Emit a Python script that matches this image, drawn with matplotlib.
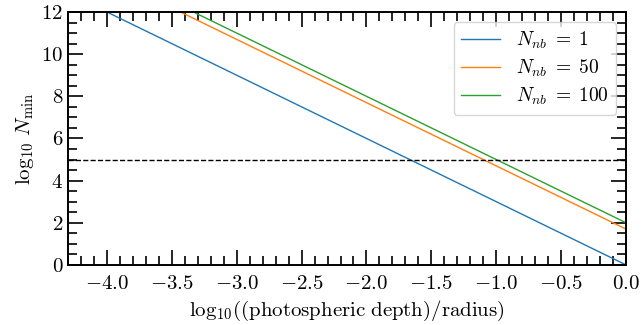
import matplotlib
matplotlib.use("Agg")
import matplotlib.pyplot as plt
from matplotlib.ticker import MultipleLocator

plt.rcParams.update({
    "font.family": "serif",
    "font.serif": ["cmr10"],
    "mathtext.fontset": "cm",
    "axes.formatter.use_mathtext": True,
    "font.size": 15,
})

# data (straight lines: endpoints)
x_vals = [-4.3, 0.0]
y_nb1 = [12.9, 0.0]
y_nb50 = [14.6, 1.7]
y_nb100 = [14.9, 2.0]
labels = [r"$N_{nb}\;=\;1$", r"$N_{nb}\;=\;50$", r"$N_{nb}\;=\;100$"]
threshold = 5.0

fig = plt.figure(figsize=(6.42, 3.25), dpi=100)
ax = fig.add_axes([0.106, 0.185, 0.869, 0.778])

ax.plot(x_vals, y_nb1, color="#1f77b4", lw=1.0, label=labels[0])
ax.plot(x_vals, y_nb50, color="#ff7f0e", lw=1.0, label=labels[1])
ax.plot(x_vals, y_nb100, color="#2ca02c", lw=1.0, label=labels[2])
ax.axhline(threshold, color="black", ls="--", lw=1.0)

ax.set_xlim(-4.3, 0.0)
ax.set_ylim(0, 12)
ax.xaxis.set_major_locator(MultipleLocator(0.5))
ax.xaxis.set_minor_locator(MultipleLocator(0.1))
ax.yaxis.set_major_locator(MultipleLocator(2))
ax.yaxis.set_minor_locator(MultipleLocator(0.5))
ax.tick_params(which="both", direction="in", top=True, right=True)
ax.tick_params(which="major", length=11, width=1.2)
ax.tick_params(which="minor", length=6.5, width=1.2)
ax.tick_params(axis="x", which="major", pad=7.5)
for s in ax.spines.values():
    s.set_linewidth(1.4)

ax.set_xlabel(r"$\mathrm{log}_{10}((\mathrm{photospheric\ depth})/\mathrm{radius})$")
ax.set_ylabel(r"$\mathrm{log}_{10}\ N_{\mathrm{min}}$")
ax.legend(loc="upper right", fontsize=14, handlelength=2.0,
          labelspacing=0.35, borderpad=0.4)

fig.savefig("out.png", dpi=100)
